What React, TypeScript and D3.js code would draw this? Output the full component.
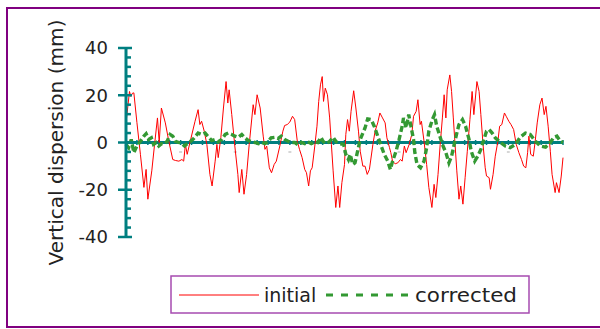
import { useMemo } from "react";
import * as d3 from "d3";

const W = 600;
const H = 329;
const PLOT = { left: 126, right: 563, top: 48, bottom: 237 };

const FONT = '"DejaVu Sans", "Open Sans", sans-serif';
const TEAL = "#007f80";
const PURPLE = "#800080";

// y axis
const Y_TICKS = [40, 20, 0, -20, -40];
const Y_MINOR_STEP = 4;

// x positions along the track (0..100) and dispersion values in mm
const INITIAL_X = [
  0, 0.8, 1.1, 1.5, 1.8, 2.5, 3.3, 4.1, 4.6, 5.0, 5.9, 6.5, 7.2, 7.6, 8.1, 9.0, 9.8,
  10.7, 11.3, 12.1, 12.8, 13.2, 13.6, 14.0, 14.7, 15.8, 16.5, 16.9, 17.3, 17.9, 18.5,
  19.2, 19.7, 20.4, 20.8, 21.1, 21.7, 22.3, 22.9, 23.3, 23.6, 24.2, 24.9, 25.6, 25.9,
  26.5, 27.0, 27.6, 28.2, 29.1, 29.5, 30.0, 30.7, 31.4, 31.8, 32.2, 32.8, 33.3, 33.9,
  34.4, 35.2, 35.9, 36.3, 36.9, 37.5, 38.1, 38.6, 39.2, 39.7, 40.3, 40.9, 41.3, 41.8,
  42.2, 42.6, 43.2, 43.7, 44.1, 44.5, 44.9, 45.2, 45.6, 46.1, 46.6, 47.0, 47.4, 48.0,
  48.5, 48.9, 49.4, 50.0, 50.3, 50.7, 51.1, 51.5, 52.1, 52.6, 53.2, 53.6, 54.2, 54.7,
  55.2, 55.7, 56.5, 57.0, 57.6, 58.1, 58.7, 59.3, 59.7, 60.3, 60.6, 61.0, 61.6, 62.2,
  62.8, 63.2, 63.7, 64.1, 64.8, 65.4, 65.8, 66.4, 66.8, 67.3, 67.6, 68.2, 68.8, 69.3,
  70.0, 70.5, 70.9, 71.4, 71.9, 72.4, 72.8, 73.2, 73.5, 74.1, 74.5, 74.9, 75.3, 75.7,
  76.2, 76.6, 77.1, 77.6, 78.1, 78.7, 79.2, 79.6, 80.3, 80.8, 81.2, 81.7, 82.2, 82.5,
  83.1, 83.4, 84.0, 84.5, 85.1, 85.5, 86.0, 86.6, 87.0, 87.6, 88.1, 88.7, 89.3, 89.9,
  90.5, 91.0, 91.5, 91.9, 92.2, 92.6, 93.2, 93.6, 94.1, 94.7, 95.2, 95.7, 96.1, 96.6,
  97.1, 97.5, 98.2, 98.5, 99.1, 99.6, 100,
];
const INITIAL_Y = [
  8.3, 21.6, 19.5, 20.9, 21, 8.4, -5, -19, -11.4, -24, -12, -1.5, 10.4, 0, 14.6, 8.3, 0.5,
  -7.2, -7.6, -7.9, -7.2, -7.9, -0.8, -5, 0.5, 9, 13.9, 7.6, 9, 4.8, -0.8,
  -13.5, -18.4, -7.9, -0.8, -6.4, 2, 14.6, 25.8, 16.7, 22.3, 11.8, -1.5, -13.5, -21.2,
  -11.4, -21.9, -13.5, -0.8, 16, 11.8, 20.2, 14.6, 2.7, -2.9, -1.5, -10.7, -12.8, -9.3,
  -7.9, -1.5, 4.8, 7.2, 7.6, 8.7, 11.1, 9.7, 0.5, -2.9, -6.4, -11.4, -12.8, -18.4,
  -12, -10.7, -1.5, 6.9, 17.4, 24.4, 27.9, 17.4, 23, 20.2, 10.4, -0.8, -12, -27.5,
  -18.4, -27.5, -17, -9.3, 3.4, 9.7, 4.8, 13.2, 21.9, 14.6, 4.8, -3.7, -10, -10,
  -13.5, -11.4, -0.8, 4.8, 8.3, 12.5, 10.4, 8.3, 2, -2.2, -4.3, -7.9, -9, -8.6,
  -7.2, -7.9, -1.5, -4.3, -0.8, 3.4, 11.1, 13.2, 18.1, 7.6, 9, 0.5, -9.3, -19,
  -27.5, -17.7, -23.3, -13.5, -0.8, 10.4, 20.2, 10.4, 22.3, 28.6, 21.6, 10.4, -0.8, -12,
  -24, -18.4, -26.1, -14.9, -3.7, 9.7, 21.6, 11.8, 25.8, 21.6, 11.8, -0.8, -10.7, -14.2,
  -14.9, -19.8, -13.5, -5.8, 0.5, 6.9, 7.6, 12.5, 11.1, 9, 7.6, 5.5, -0.8, -4.3,
  -7.2, -10, -10.7, -4.3, 2.7, -5, -5.8, 0, 8.3, 16, 18.8, 11.8, 15.3, 6.9,
  -3.7, -13.5, -21.2, -17, -21.2, -14.2, -6.4,
];

const CORRECTED_X = [
  0, 0.6, 1.2, 1.8, 2.5, 3.3, 4.1, 4.6, 5.2, 5.8, 6.3, 6.9, 7.5, 8.1, 8.6, 9.4, 10.1,
  10.7, 11.3, 12.1, 12.8, 13.4, 14.0, 14.7, 15.5, 16.5, 17.3, 18.1, 18.7, 19.6, 20.4,
  21.1, 21.9, 22.7, 23.4, 24.2, 24.9, 25.7, 26.5, 27.2, 28.0, 28.8, 29.5, 30.3, 31.1,
  31.8, 32.5, 33.2, 34.0, 34.8, 35.5, 36.3, 37.1, 37.8, 38.6, 39.4, 40.1, 40.9, 41.6,
  42.4, 43.2, 43.9, 44.6, 45.1, 45.8, 46.6, 47.4, 48.1, 48.9, 49.8, 50.3, 50.9, 51.3,
  51.9, 52.4, 53.0, 53.6, 54.2, 54.7, 55.3, 56.1, 56.8, 57.6, 58.4, 59.1, 59.9, 60.5,
  61.0, 61.8, 62.5, 63.2, 63.5, 64.1, 64.7, 65.2, 65.8, 66.1, 66.6, 67.4, 68.2, 68.8,
  69.3, 70.1, 70.6, 71.1, 71.6, 72.4, 73.2, 73.9, 74.5, 75.1, 75.7, 76.2, 77.0, 77.7,
  78.5, 79.0, 79.8, 80.5, 81.2, 81.9, 82.5, 83.1, 83.8, 84.5, 85.7, 86.8, 87.9, 89.1,
  90.2, 91.4, 92.5, 93.7, 94.8, 96.0, 97.1, 97.9, 98.6, 99.4, 100,
];
const CORRECTED_Y = [
  -0.8, -2.2, 1.3, -4.3, -1.5, 0.5, 2.7, 3.7, 1.3, 2, -0.8, 0, -1.5, -0.5, -0.8, 0.5, 3.4,
  2.7, 0.5, 0, -0.5, -1.5, -0.5, 0.4, 1.7, 4, 3.4, 4, 2.7, 0.8, 1.3,
  0.3, 1.3, 3.4, 4, 3.4, 2.7, 2.2, 3.4, 2, 0.8, 0.3, 0, -0.5, 0,
  -0.5, 0.3, 2, 2.2, 1.7, 2.7, 1.3, 0.5, 0, 0, -1.1, 0, -0.5, 0.3,
  -0.5, 0.3, 0, 2.2, 0.5, -0.5, 0.5, 2.2, 0.3, -0.5, -0.8, -5, -7.2, -5,
  -9.3, -8.6, -3.7, 1.3, 4, 6.2, 10, 9.7, 6.9, 2.7, -1.5, -5, -7.9, -11.4,
  -7.9, -3.7, 1.3, 6.9, 10.4, 6.2, 11.8, 6.9, 1.3, -4.3, -9.3, -10.7, -7.9, -2.2,
  4.8, 9.7, 11.8, 6.9, 4, -0.8, -4.3, -8.6, -5.8, -0.8, 4, 7.6, 9.7, 6.9,
  1.3, -3.7, -7.9, -5.8, -2.9, 1.3, 4.8, 5.5, 4, 2, 0, -1.5, -2.2, -0.8,
  2.2, 4, 3.4, 0.5, -1.5, -2, 0, 2.2, 2.7, 0.5, 0,
];

const X_MINOR_STEP = 2.5;
const X_LABEL_STEP = 12.5;

const AXIS_TITLE = "Vertical dispersion (mm)";
const LEGEND = ["initial", "corrected"];

export default function App() {
  const x = useMemo(
    () => d3.scaleLinear().domain([0, 100]).range([PLOT.left, PLOT.right]),
    []
  );
  const y = useMemo(
    () => d3.scaleLinear().domain([-40, 40]).range([PLOT.bottom, PLOT.top]),
    []
  );

  const initialLine = d3
    .line<number>()
    .x((_, i) => x(INITIAL_X[i]))
    .y((v) => y(v))(INITIAL_Y);
  const correctedLine = d3
    .line<number>()
    .x((_, i) => x(CORRECTED_X[i]))
    .y((v) => y(v))(CORRECTED_Y);

  const minorY = d3.range(-40, 40.01, Y_MINOR_STEP).filter((v) => v % 20 !== 0);
  const minorX = d3.range(X_MINOR_STEP, 100.01, X_MINOR_STEP);
  const labelX = d3.range(X_LABEL_STEP, 100, X_LABEL_STEP);

  return (
    <svg
      width={W}
      height={H}
      viewBox={`0 0 ${W} ${H}`}
      style={{ position: "absolute", left: 0, top: 0, display: "block", background: "#fff" }}
      fontFamily={FONT}
    >
      <rect x={7} y={8} width={W + 10} height={319} fill="#fff" stroke={PURPLE} strokeWidth={2} />

      {/* y axis title */}
      <text
        transform={`translate(56,${y(0)}) rotate(-90)`}
        textAnchor="middle"
        dy="0.35em"
        fontSize={19}
        fill="#222"
        textLength={246}
        lengthAdjust="spacingAndGlyphs"
      >
        {AXIS_TITLE}
      </text>

      {/* x axis line with small marks */}
      <line x1={x(0)} x2={x(100)} y1={y(0)} y2={y(0)} stroke={TEAL} strokeWidth={3} />
      {minorX.map((v) => (
        <line key={v} x1={x(v)} x2={x(v)} y1={y(0) - 2.5} y2={y(0) + 2.5} stroke={TEAL} strokeWidth={1.5} />
      ))}
      {labelX.map((v) => (
        <line key={v} x1={x(v) - 1.5} x2={x(v) + 1.5} y1={y(0) + 9.5} y2={y(0) + 9.5} stroke="#bbb" strokeWidth={1.2} />
      ))}

      {/* series */}
      <path d={initialLine ?? ""} fill="none" stroke="#ff0000" strokeWidth={1} strokeLinejoin="round" />
      <path
        d={correctedLine ?? ""}
        fill="none"
        stroke="#339933"
        strokeWidth={3.4}
        strokeDasharray="6,3"
      />

      {/* y axis */}
      <line x1={PLOT.left} x2={PLOT.left} y1={y(40)} y2={y(-40)} stroke={TEAL} strokeWidth={3} />
      {minorY.map((v) => (
        <line key={v} x1={PLOT.left} x2={PLOT.left + 5} y1={y(v)} y2={y(v)} stroke={TEAL} strokeWidth={2.5} />
      ))}
      {Y_TICKS.map((v) => (
        <g key={v}>
          <line x1={PLOT.left - 8} x2={PLOT.left + 6} y1={y(v)} y2={y(v)} stroke={TEAL} strokeWidth={2.5} />
          <text x={108} y={y(v)} dy="0.35em" textAnchor="end" fontSize={18} fill="#222">
            {v}
          </text>
        </g>
      ))}

      {/* legend */}
      <rect x={171} y={276} width={358} height={37} fill="#fff" stroke="#a64bb0" strokeWidth={1.5} />
      <line x1={179} x2={259} y1={295} y2={295} stroke="#ff0000" strokeWidth={1} />
      <text x={264} y={295} dy="0.35em" fontSize={19} fill="#222">
        {LEGEND[0]}
      </text>
      <line x1={326} x2={410} y1={295} y2={295} stroke="#339933" strokeWidth={3} strokeDasharray="7,8" />
      <text
        x={415}
        y={295}
        dy="0.35em"
        fontSize={19}
        fill="#222"
        textLength={102}
        lengthAdjust="spacingAndGlyphs"
      >
        {LEGEND[1]}
      </text>
    </svg>
  );
}
